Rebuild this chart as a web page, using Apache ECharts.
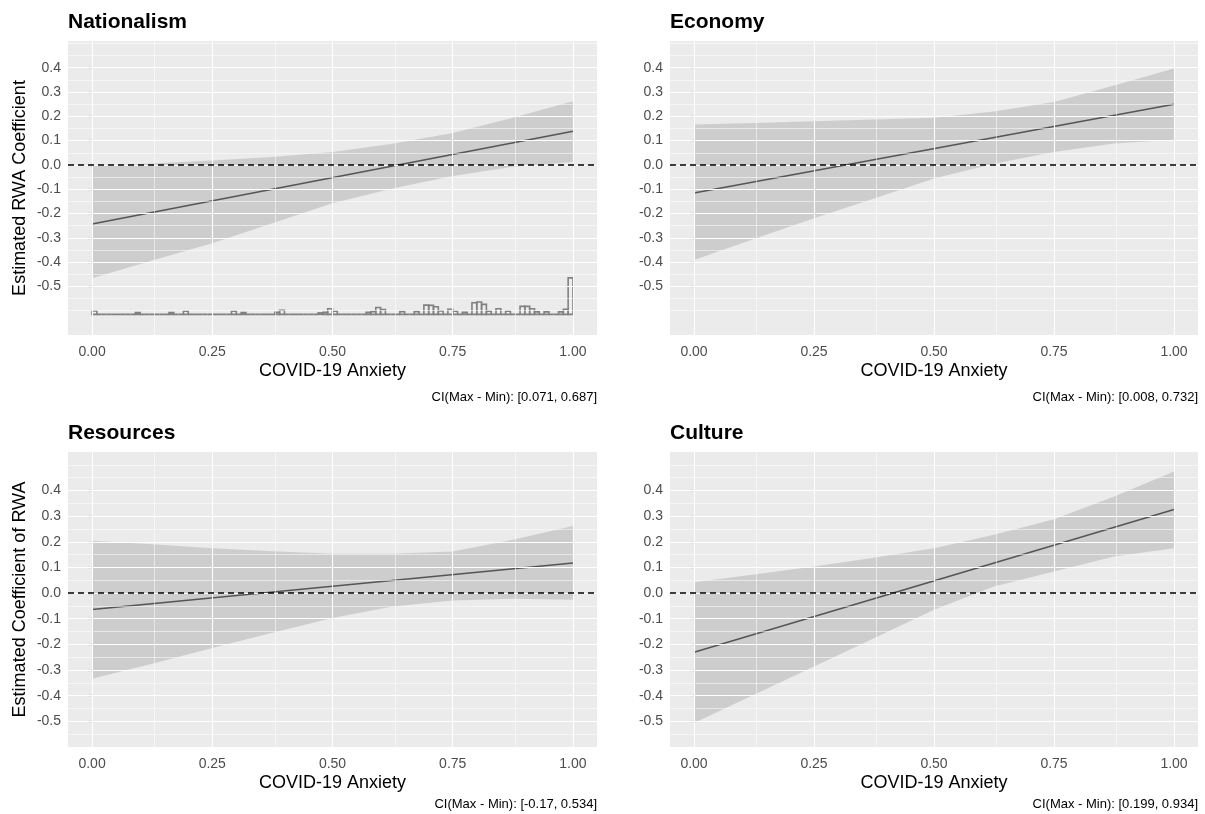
<!DOCTYPE html>
<html>
<head>
<meta charset="utf-8">
<script src="https://cdn.jsdelivr.net/npm/echarts@6/dist/echarts.min.js"></script>
<style>
  html, body { margin: 0; padding: 0; background: #fff; }
  #chart { width: 1205px; height: 814px; }
</style>
</head>
<body>
<div id="chart"></div>
<script>
// moderator values at which the confidence bands were read
const xGrid = [0, 0.125, 0.25, 0.375, 0.5, 0.625, 0.75, 0.875, 1];
const xTicks = [0, 0.25, 0.5, 0.75, 1];
const xMinor = [0.125, 0.375, 0.625, 0.875];
const yTicks = [-0.5, -0.4, -0.3, -0.2, -0.1, 0, 0.1, 0.2, 0.3, 0.4];
const yMinor = [-0.6, -0.55, -0.45, -0.35, -0.25, -0.15, -0.05, 0.05, 0.15, 0.25, 0.35, 0.45, 0.5];

const panelNames = ['Nationalism', 'Economy', 'Resources', 'Culture'];
const ciLabels = [
  'CI(Max - Min): [0.071, 0.687]',
  'CI(Max - Min): [0.008, 0.732]',
  'CI(Max - Min): [-0.17, 0.534]',
  'CI(Max - Min): [0.199, 0.934]'
];

// fitted marginal effect at x = 0 and x = 1
const natLine = [-0.243, 0.139];
const ecoLine = [-0.116, 0.250];
const resLine = [-0.064, 0.117];
const culLine = [-0.231, 0.326];

// 95% band (upper / lower) at xGrid
const natUpper = [-0.005, 0.006, 0.018, 0.033, 0.053, 0.087, 0.131, 0.194, 0.262];
const natLower = [-0.466, -0.393, -0.322, -0.240, -0.158, -0.097, -0.046, -0.008, 0.012];
const ecoUpper = [0.166, 0.173, 0.180, 0.187, 0.194, 0.220, 0.259, 0.327, 0.397];
const ecoLower = [-0.391, -0.305, -0.220, -0.138, -0.056, 0.005, 0.053, 0.088, 0.104];
const resUpper = [0.204, 0.190, 0.175, 0.163, 0.153, 0.153, 0.162, 0.208, 0.262];
const resLower = [-0.334, -0.275, -0.214, -0.155, -0.097, -0.052, -0.029, -0.022, -0.026];
const culUpper = [0.042, 0.072, 0.104, 0.138, 0.175, 0.227, 0.288, 0.377, 0.474];
const culLower = [-0.506, -0.396, -0.286, -0.176, -0.065, 0.026, 0.084, 0.143, 0.175];

// histogram of the moderator (bins of 0.01), non-empty bins only
const histBin = [0, 9, 16, 19, 29, 31, 38, 39, 47, 48, 49, 50, 57, 58, 59, 60, 64, 67, 69, 70, 71, 72,
                 74, 75, 77, 79, 80, 81, 82, 84, 86, 89, 90, 91, 92, 94, 97, 98, 99];
const histH = [0.014, 0.007, 0.007, 0.013, 0.013, 0.007, 0.008, 0.017, 0.006, 0.008, 0.023, 0.013,
               0.008, 0.011, 0.028, 0.020, 0.011, 0.011, 0.038, 0.037, 0.031, 0.014,
               0.021, 0.013, 0.008, 0.048, 0.051, 0.041, 0.013, 0.023, 0.013, 0.033, 0.033, 0.023,
               0.010, 0.010, 0.010, 0.021, 0.150];
const histBase = -0.615;
const binW = 0.01;

const FONT = '"Liberation Sans", Arial, Helvetica, sans-serif';

const panels = [
  { line: natLine, upper: natUpper, lower: natLower, yMin: -0.70, yMax: 0.51 },
  { line: ecoLine, upper: ecoUpper, lower: ecoLower, yMin: -0.70, yMax: 0.51 },
  { line: resLine, upper: resUpper, lower: resLower, yMin: -0.60, yMax: 0.55 },
  { line: culLine, upper: culUpper, lower: culLower, yMin: -0.60, yMax: 0.55 }
];
const grids = [
  { left: 68, top: 41, width: 529, height: 294 },
  { left: 670, top: 41, width: 528, height: 294 },
  { left: 68, top: 452, width: 529, height: 295 },
  { left: 670, top: 452, width: 528, height: 295 }
];
const ciTop = [391, 391, 798, 798];

function gridMarks() {
  const d = [];
  xTicks.forEach(v => d.push({ xAxis: v, lineStyle: { width: 1.1 } }));
  xMinor.forEach(v => d.push({ xAxis: v, lineStyle: { width: 0.55 } }));
  yTicks.forEach(v => d.push({ yAxis: v, lineStyle: { width: 1.1 } }));
  yMinor.forEach(v => d.push({ yAxis: v, lineStyle: { width: 0.55 } }));
  return d;
}

function bandRenderer(upper, lower) {
  return function (params, api) {
    if (params.dataIndex !== 0) return;
    const pts = [];
    for (let k = 0; k < xGrid.length; k++) pts.push(api.coord([xGrid[k], upper[k]]));
    for (let k = xGrid.length - 1; k >= 0; k--) pts.push(api.coord([xGrid[k], lower[k]]));
    return { type: 'polygon', shape: { points: pts }, style: { fill: 'rgba(128,128,128,0.28)' } };
  };
}

// full set of bins so empty ones still draw their outline along the baseline
const histData = [];
for (let i = 0; i < 100; i++) {
  const j = histBin.indexOf(i);
  histData.push([i * binW, (i + 1) * binW, j >= 0 ? histH[j] : 0]);
}

const xAxes = [], yAxes = [], series = [], titles = [];
panels.forEach((p, i) => {
  xAxes.push({
    gridIndex: i, type: 'value', min: -0.05, max: 1.05,
    name: 'COVID-19 Anxiety', nameLocation: 'middle', nameGap: 27,
    nameTextStyle: { fontSize: 18, color: '#000', fontFamily: FONT },
    axisLine: { show: false },
    axisTick: { show: true, length: 4, customValues: xTicks, lineStyle: { color: '#333', width: 1.1 } },
    axisLabel: { customValues: xTicks, margin: 10, fontSize: 14, color: '#4d4d4d', fontFamily: FONT,
                 formatter: v => v.toFixed(2) },
    splitLine: { show: false }
  });
  const y = {
    gridIndex: i, type: 'value', min: p.yMin, max: p.yMax,
    axisLine: { show: false },
    axisTick: { show: true, length: 4, customValues: yTicks, lineStyle: { color: '#333', width: 1.1 } },
    axisLabel: { customValues: yTicks, margin: 7, fontSize: 14, color: '#4d4d4d', fontFamily: FONT,
                 formatter: v => v.toFixed(1) },
    splitLine: { show: false }
  };
  if (i === 0 || i === 2) {
    y.name = i === 0 ? 'Estimated RWA Coefficient' : 'Estimated Coefficient of RWA';
    y.nameLocation = 'middle';
    y.nameGap = 39;
    y.nameRotate = 90;
    y.nameTextStyle = { fontSize: 18, color: '#000', fontFamily: FONT };
  }
  yAxes.push(y);

  series.push({
    type: 'line', xAxisIndex: i, yAxisIndex: i, data: [], z: 1, silent: true,
    markLine: { silent: true, symbol: ['none', 'none'], label: { show: false }, animation: false,
                lineStyle: { color: '#ffffff', type: 'solid' }, emphasis: { disabled: true },
                data: gridMarks() }
  });
  series.push({
    type: 'custom', xAxisIndex: i, yAxisIndex: i, z: 2, silent: true,
    data: xGrid.map((x, k) => [x, p.lower[k], p.upper[k]]),
    renderItem: bandRenderer(p.upper, p.lower)
  });
  series.push({
    type: 'line', xAxisIndex: i, yAxisIndex: i, z: 3, silent: true, symbol: 'none',
    data: [[0, p.line[0]], [1, p.line[1]]],
    lineStyle: { color: '#555555', width: 1.5 },
    markLine: { silent: true, symbol: ['none', 'none'], label: { show: false }, animation: false,
                lineStyle: { color: '#000', type: [6, 4], width: 1.5 }, emphasis: { disabled: true },
                data: [{ yAxis: 0 }] }
  });

  titles.push({
    text: panelNames[i], left: grids[i].left, top: grids[i].top - 29, padding: 0,
    textStyle: { fontSize: 21, fontWeight: 'bold', color: '#000', fontFamily: FONT }
  });
  titles.push({
    text: ciLabels[i], right: 1205 - (grids[i].left + grids[i].width), top: ciTop[i], padding: 0,
    textStyle: { fontSize: 13, fontWeight: 'normal', color: '#000', fontFamily: FONT }
  });
});

series.push({
  type: 'custom', xAxisIndex: 0, yAxisIndex: 0, z: 2, silent: true,
  data: histData,
  renderItem: function (params, api) {
    const a = api.coord([api.value(0), histBase + api.value(2)]);
    const b = api.coord([api.value(1), histBase]);
    return {
      type: 'rect',
      shape: { x: a[0], y: a[1], width: b[0] - a[0], height: b[1] - a[1] },
      style: { fill: 'rgba(255,255,255,0.15)', stroke: '#808080', lineWidth: 1.6 }
    };
  }
});

const chart = echarts.init(document.getElementById('chart'));
chart.setOption({
  animation: false,
  backgroundColor: '#ffffff',
  title: titles,
  grid: grids.map(g => Object.assign({ show: true, backgroundColor: '#ebebeb', borderWidth: 0 }, g)),
  xAxis: xAxes,
  yAxis: yAxes,
  series: series
});
</script>
</body>
</html>
